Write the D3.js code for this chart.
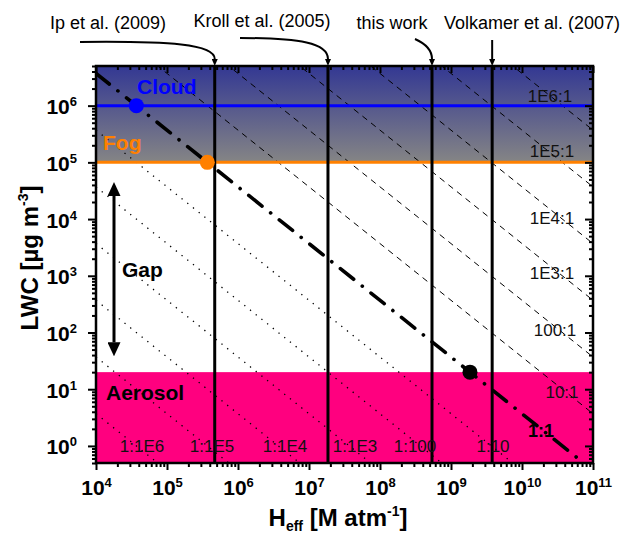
<!DOCTYPE html>
<html><head><meta charset="utf-8">
<script src="https://cdn.jsdelivr.net/npm/d3@7"></script>
<style>
body{margin:0;background:#fff}
svg{display:block;font-family:"Liberation Sans",Arial,sans-serif}
</style></head><body>
<svg id="chart" width="629" height="537"></svg>
<script>
// Literature values of the effective Henry's law constant (M atm^-1)
const refNames = ["Ip et al. (2009)", "Kroll et al. (2005)", "this work", "Volkamer et al. (2007)"];
const refH = [4.7e5, 1.85e7, 5.4e8, 3.8e9];

// Aqueous:gas partitioning ratios (dashed = water side, dotted = gas side)
const ratioUp = [10, 100, 1e3, 1e4, 1e5, 1e6];
const ratioUpLabels = ["10:1", "100:1", "1E3:1", "1E4:1", "1E5:1", "1E6:1"];
const ratioDown = [0.1, 0.01, 1e-3, 1e-4, 1e-5, 1e-6];
const ratioDownLabels = ["1:10", "1:100", "1:1E3", "1:1E4", "1:1E5", "1:1E6"];
const evenSplit = 3.7e10;          // H_eff * LWC where the split is 1:1

// Liquid water regimes
const regimeNames = ["Cloud", "Fog"];
const regimeLWC = [1e6, 1e5];
const regimeH = [3.7e4, 3.7e5];
const aerosolTop = 20;
const workPoint = [1.85e9, 20];
const gapSpan = [4.5e4, 38];

// Axis ticks
const xMajor = [1e4, 1e5, 1e6, 1e7, 1e8, 1e9, 1e10, 1e11];
const yMajor = [1e0, 1e1, 1e2, 1e3, 1e4, 1e5, 1e6];

const svg = d3.select("#chart");
const L = 96, R = 593, T = 66, B = 463;
const x = d3.scaleLog().domain([1e4, 1e11]).range([L, R]);
const y = d3.scaleLog().domain([0.5, 5e6]).range([B, T]);

function minors(lo, hi) {
  const out = [];
  for (let e = Math.floor(Math.log10(lo)); e <= Math.ceil(Math.log10(hi)); e++)
    for (let m = 2; m <= 9; m++) { const v = m * Math.pow(10, e); if (v >= lo && v <= hi) out.push(v); }
  return out;
}
const xMinor = minors(1e4, 1e11);
const yMinor = minors(0.5, 5e6);

const defs = svg.append("defs");
defs.append("clipPath").attr("id", "plot").append("rect")
  .attr("x", L).attr("y", T).attr("width", R - L).attr("height", B - T);
const grad = defs.append("linearGradient").attr("id", "sky")
  .attr("x1", 0).attr("y1", 0).attr("x2", 0).attr("y2", 1);
grad.append("stop").attr("offset", 0).attr("stop-color", "#333893");
grad.append("stop").attr("offset", 1).attr("stop-color", "#858585");

// arrowheads: triangles pointing along the path direction, tip ahead of the line end
function head(id, len, wid) {
  defs.append("marker").attr("id", id).attr("viewBox", `0 0 ${len} ${wid}`)
    .attr("refX", 0).attr("refY", wid / 2).attr("markerWidth", len).attr("markerHeight", wid)
    .attr("markerUnits", "userSpaceOnUse").attr("orient", "auto-start-reverse")
    .append("path").attr("d", `M0,0 L${len},${wid / 2} L0,${wid} Z`).attr("fill", "#000");
}
head("head", 7, 6);
head("gapHead", 14, 13);

const plot = svg.append("g").attr("clip-path", "url(#plot)");

// regime backgrounds
plot.append("rect").attr("x", L).attr("width", R - L)
  .attr("y", y(5e6)).attr("height", y(regimeLWC[1]) - y(5e6)).attr("fill", "url(#sky)");
plot.append("rect").attr("x", L).attr("width", R - L)
  .attr("y", y(aerosolTop)).attr("height", y(0.5) - y(aerosolTop)).attr("fill", "#ff007f");

// iso-partitioning lines: H_eff * LWC = const
const iso = d3.line().x(d => x(d[0])).y(d => y(d[1]));
const isoPts = p => [[1e4, p / 1e4], [1e11, p / 1e11]];
plot.selectAll(".up").data(ratioUp).join("path")
  .attr("d", r => iso(isoPts(evenSplit * r)))
  .attr("fill", "none").attr("stroke", "#000").attr("stroke-width", 1)
  .attr("stroke-dasharray", "6,5");
plot.selectAll(".down").data(ratioDown).join("path")
  .attr("d", r => iso(isoPts(evenSplit * r)))
  .attr("fill", "none").attr("stroke", "#000").attr("stroke-width", 1.3)
  .attr("stroke-dasharray", "1.3,6");

// regime boundaries
const regimeColors = ["#0000ff", "#ff8000"];
plot.selectAll(".reg").data(regimeLWC).join("line")
  .attr("x1", L).attr("x2", R).attr("y1", d => y(d)).attr("y2", d => y(d))
  .attr("stroke", (d, i) => regimeColors[i]).attr("stroke-width", 3);

// literature Henry's constants
plot.selectAll(".ref").data(refH).join("line")
  .attr("x1", d => x(d)).attr("x2", d => x(d)).attr("y1", T).attr("y2", B)
  .attr("stroke", "#000").attr("stroke-width", 3);

// 1:1 line
plot.append("path").attr("d", iso(isoPts(evenSplit)))
  .attr("fill", "none").attr("stroke", "#000").attr("stroke-width", 3.6)
  .attr("stroke-linecap", "round").attr("stroke-dasharray", "17,11,0.1,11");

// points on the 1:1 line
plot.selectAll(".pt").data(regimeLWC).join("circle")
  .attr("cx", (d, i) => x(regimeH[i])).attr("cy", d => y(d)).attr("r", 7.5)
  .attr("fill", (d, i) => regimeColors[i]);
plot.append("circle").attr("cx", x(workPoint[0])).attr("cy", y(workPoint[1]))
  .attr("r", 7.5).attr("fill", "#000");

// gap arrow
svg.append("line").attr("x1", 114).attr("x2", 114)
  .attr("y1", y(gapSpan[0]) + 14).attr("y2", y(gapSpan[1]) - 14)
  .attr("stroke", "#000").attr("stroke-width", 3)
  .attr("marker-start", "url(#gapHead)").attr("marker-end", "url(#gapHead)");

// region labels
const bold = (t, px, py, col, size) => svg.append("text").attr("x", px).attr("y", py)
  .attr("font-weight", "bold").attr("font-size", size || 20).attr("fill", col).text(t);
bold(regimeNames[0], 137, 94, "#0000ff", 21);
bold(regimeNames[1], 103, 150, "#ff8000", 21);
bold("Gap", 122, 277, "#000", 21);
bold("Aerosol", 106, 400, "#000", 21);

// ratio labels
const upPos = [[562, 398], [555, 336], [552, 279], [552, 224], [552, 157], [550, 102]];
svg.selectAll(".uplab").data(ratioUpLabels).join("text")
  .attr("x", (d, i) => upPos[i][0]).attr("y", (d, i) => upPos[i][1])
  .attr("text-anchor", "middle").attr("font-size", 17).attr("fill", "#111").text(d => d);
const downX = [493, 415, 355, 285, 212, 142];
svg.selectAll(".dnlab").data(ratioDownLabels).join("text")
  .attr("x", (d, i) => downX[i]).attr("y", 452)
  .attr("text-anchor", "middle").attr("font-size", 17).attr("fill", "#111").text(d => d);
svg.append("text").attr("x", 541).attr("y", 437).attr("text-anchor", "middle")
  .attr("font-size", 18).attr("font-weight", "bold").attr("fill", "#000").text("1:1");

// axes
function sup(sel) {
  sel.selectAll(".tick text").each(function (d) {
    const t = d3.select(this);
    t.text("10");
    t.append("tspan").attr("font-size", 13).attr("dy", -8).text(Math.round(Math.log10(d)));
  });
}
const ax = svg.append("g").attr("font-weight", "bold");
const gB = ax.append("g").attr("transform", `translate(0,${B})`)
  .call(d3.axisBottom(x).tickValues(xMajor).tickSize(7).tickSizeOuter(0).tickPadding(5).tickFormat(d => d));
gB.call(sup);
gB.selectAll(".tick text").attr("font-size", 21).attr("fill", "#000").attr("dy", "0.95em");
ax.append("g").attr("transform", `translate(0,${B})`)
  .call(d3.axisBottom(x).tickValues(xMinor).tickSize(4).tickSizeOuter(0).tickFormat(""));
const gL = ax.append("g").attr("transform", `translate(${L},0)`)
  .call(d3.axisLeft(y).tickValues(yMajor).tickSize(8).tickSizeOuter(0).tickPadding(11).tickFormat(d => d));
gL.call(sup);
gL.selectAll(".tick text").attr("font-size", 21).attr("fill", "#000").attr("dy", "0.38em");
ax.append("g").attr("transform", `translate(${L},0)`)
  .call(d3.axisLeft(y).tickValues(yMinor).tickSize(4).tickSizeOuter(0).tickFormat(""));
ax.append("g").attr("transform", `translate(0,${T})`)
  .call(d3.axisTop(x).tickValues(xMajor).tickSize(-7).tickSizeOuter(0).tickFormat(""));
ax.append("g").attr("transform", `translate(0,${T})`)
  .call(d3.axisTop(x).tickValues(xMinor).tickSize(-4).tickSizeOuter(0).tickFormat(""));
ax.append("g").attr("transform", `translate(${R},0)`)
  .call(d3.axisRight(y).tickValues(yMajor).tickSize(-8).tickSizeOuter(0).tickFormat(""));
ax.append("g").attr("transform", `translate(${R},0)`)
  .call(d3.axisRight(y).tickValues(yMinor).tickSize(-4).tickSizeOuter(0).tickFormat(""));
ax.selectAll(".domain").remove();
ax.selectAll(".tick line").attr("stroke", "#000").attr("stroke-width", 2);
svg.append("rect").attr("x", L).attr("y", T).attr("width", R - L).attr("height", B - T)
  .attr("fill", "none").attr("stroke", "#000").attr("stroke-width", 2.5);

// axis titles
const xt = svg.append("text").attr("x", 338).attr("y", 526).attr("text-anchor", "middle")
  .attr("font-size", 24).attr("font-weight", "bold");
xt.append("tspan").text("H");
xt.append("tspan").attr("font-size", 14).attr("dy", 5).text("eff");
xt.append("tspan").attr("dy", -5).text(" [M atm");
xt.append("tspan").attr("font-size", 14).attr("dy", -10).text("-1");
xt.append("tspan").attr("dy", 10).text("]");
const yt = svg.append("text").attr("transform", "translate(38,258) rotate(-90)")
  .attr("text-anchor", "middle").attr("font-size", 24).attr("font-weight", "bold");
yt.append("tspan").text("LWC [\u00b5g m");
yt.append("tspan").attr("font-size", 14).attr("dy", -10).text("-3");
yt.append("tspan").attr("dy", 10).text("]");

// literature annotations with arrows
const notePos = [[108, 29], [262, 27], [392, 29], [532, 29]];
svg.selectAll(".note").data(refNames).join("text")
  .attr("x", (d, i) => notePos[i][0]).attr("y", (d, i) => notePos[i][1])
  .attr("text-anchor", "middle").attr("font-size", 18).attr("fill", "#000").text(d => d);
const arrowPaths = [
  h => `M80,42 C170,41 ${x(h)},44 ${x(h)},59`,
  h => `M240,38 C300,38 ${x(h)},43 ${x(h)},59`,
  h => `M415,39 C424,43 ${x(h)},49 ${x(h)},59`,
  h => `M${x(h)},40 L${x(h)},59`
];
svg.selectAll(".arrow").data(refH).join("path")
  .attr("d", (d, i) => arrowPaths[i](d))
  .attr("fill", "none").attr("stroke", "#000").attr("stroke-width", 2)
  .attr("marker-end", "url(#head)");
</script>
</body></html>
